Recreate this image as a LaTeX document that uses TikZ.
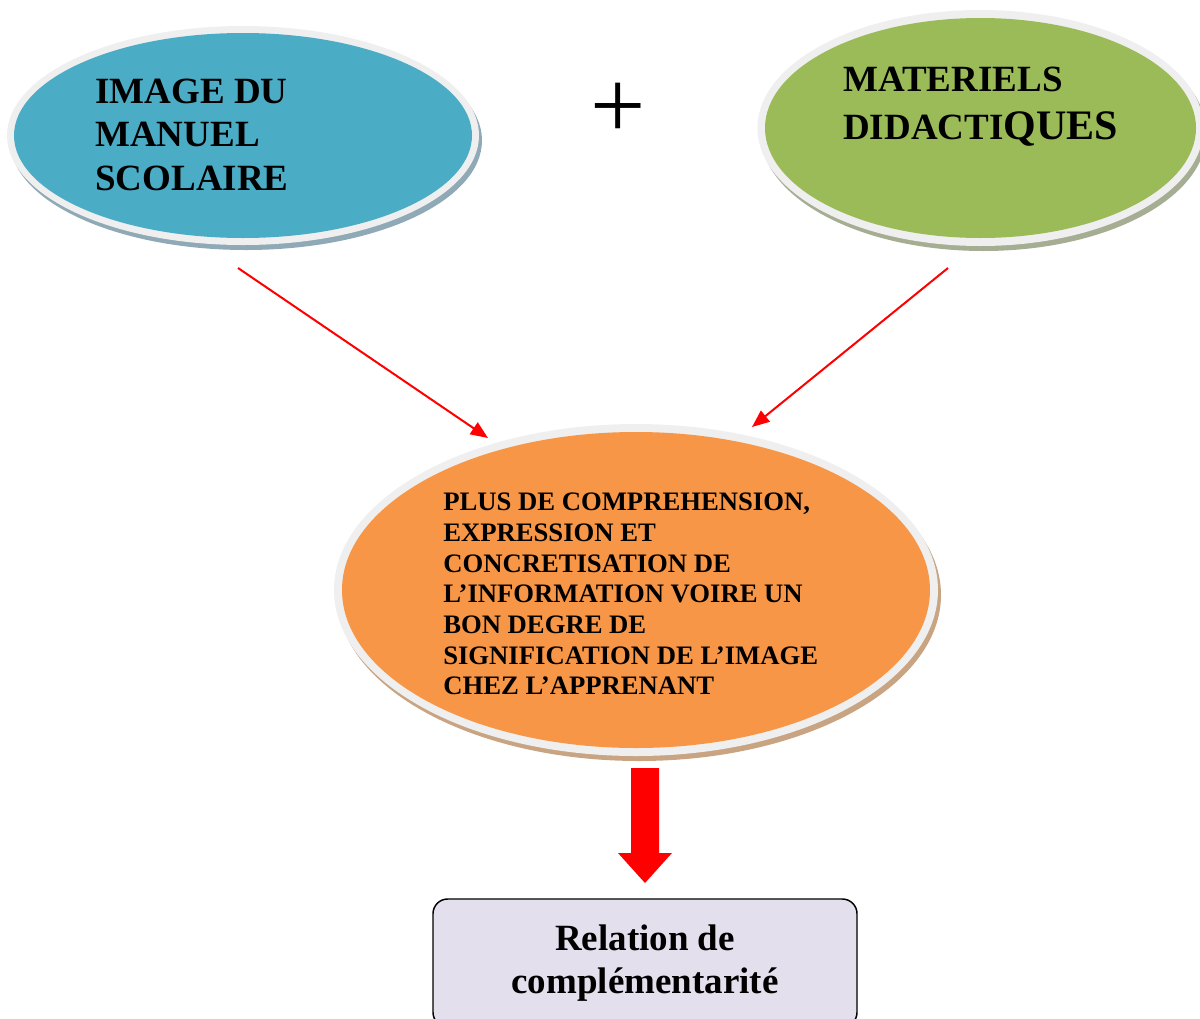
\documentclass[tikz,border=0pt]{standalone}
\usepackage{fontspec}
\setmainfont{Liberation Serif}
\usetikzlibrary{arrows.meta,shapes.geometric}
\definecolor{cblue}{HTML}{4BACC6}
\definecolor{cgreen}{HTML}{9BBB59}
\definecolor{corange}{HTML}{F79646}
\definecolor{clav}{HTML}{E4DFEC}
\definecolor{rimgray}{HTML}{EFEFEF}
\definecolor{shblue}{HTML}{8FAAB6}
\definecolor{shgreen}{HTML}{A5AE92}
\definecolor{shorange}{HTML}{C9A482}
\definecolor{cred}{HTML}{FF0000}
\tikzset{
  ovalnode/.style={ellipse, inner sep=0pt, draw=none},
  bigtext/.style={anchor=north west, inner sep=0pt, align=left,
    font=\fontsize{27.75pt}{32.6pt}\selectfont\bfseries},
  thinarrow/.style={draw=cred, line width=1.5pt,
    -{Triangle[length=13pt,width=10.5pt]}},
}
\begin{document}
\begin{tikzpicture}[x=0.75pt,y=-0.75pt]
\useasboundingbox (0,0) rectangle (1200,1018);
% blue ellipse
\fill[shblue] (246,140.5) ellipse [x radius=236, y radius=109.5];
\fill[rimgray] (243,135.5) ellipse [x radius=236, y radius=109.5];
\node[ovalnode, fill=cblue, minimum width=343.5pt, minimum height=153.75pt] (blue) at (243,135.5) {};
\node[bigtext] (tblue) at (95,78.5) {IMAGE DU\\MANUEL\\SCOLAIRE};
% green ellipse
\fill[shgreen] (983.5,133) ellipse [x radius=223, y radius=118];
\fill[rimgray] (980.5,128) ellipse [x radius=223, y radius=118];
\node[ovalnode, fill=cgreen, minimum width=323.25pt, minimum height=165pt] (green) at (980.5,128) {};
\node[bigtext, font=\fontsize{27.75pt}{36pt}\selectfont\bfseries] (tgreen) at (843,67)
  {MATERIELS\\DIDACTI{\fontsize{31.5pt}{36pt}\selectfont QUES}};
% plus
\node[inner sep=0pt, font=\fontsize{73.5pt}{80pt}\selectfont] (plus) at (618,110.5) {+};
% orange ellipse
\fill[shorange] (639,595) ellipse [x radius=302, y radius=166];
\fill[rimgray] (636,590) ellipse [x radius=302, y radius=166];
\node[ovalnode, fill=corange, minimum width=441pt, minimum height=237pt] (orange) at (636,590) {};
\node[anchor=north west, inner sep=0pt, align=left,
  font=\fontsize{20pt}{23pt}\selectfont\bfseries] (torange) at (443,493)
  {PLUS DE COMPREHENSION,\\EXPRESSION ET\\CONCRETISATION DE\\L’INFORMATION VOIRE UN\\BON DEGRE DE\\SIGNIFICATION DE L’IMAGE\\CHEZ L’APPRENANT};
% thin arrows
\coordinate (s1) at (238,268);
\coordinate (e1) at (488,438);
\coordinate (s2) at (948,268);
\coordinate (e2) at (752,427);
\draw[thinarrow] (s1) -- (e1);
\draw[thinarrow] (s2) -- (e2);
% result box
\node[draw=black, line width=1.1pt, fill=clav, rounded corners=11pt,
  minimum width=318pt, minimum height=96pt, inner sep=0pt, align=center,
  font=\fontsize{27.75pt}{32.25pt}\selectfont\bfseries] (box) at (645,963)
  {Relation de\\complémentarité};
% big red arrow
\fill[cred] (631,768) -- (659,768) -- (659,853) -- (672,853) -- (645,883)
  -- (618,853) -- (631,853) -- cycle;
\end{tikzpicture}
\end{document}
